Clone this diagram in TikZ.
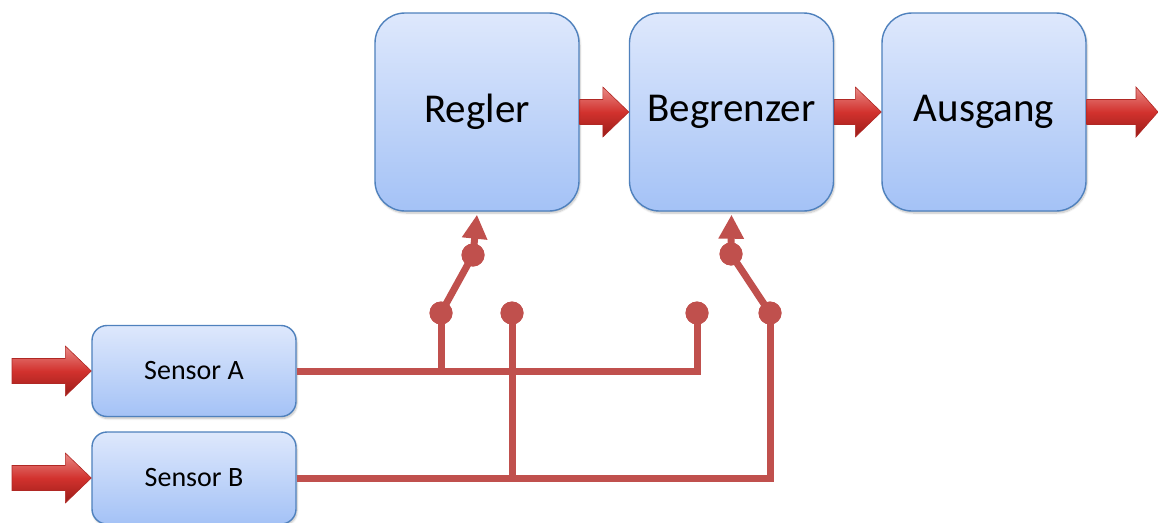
\documentclass[tikz,border=0pt]{standalone}
\usepackage{fontspec}
\setmainfont{Carlito}
\usetikzlibrary{calc,arrows.meta,shadows.blur}

\definecolor{wirered}{HTML}{C0504D}
\definecolor{boxtop}{HTML}{DEE8FC}
\definecolor{boxbot}{HTML}{A4C2F6}
\definecolor{boxline}{HTML}{4F81BD}
\definecolor{arrtop}{HTML}{E88A86}
\definecolor{arrmid}{HTML}{D2322E}
\definecolor{arrbot}{HTML}{9A1C18}
\definecolor{arrline}{HTML}{B02824}

\tikzset{
  block/.style={draw=boxline, line width=1.4pt, rounded corners=30pt,
    top color=boxtop, bottom color=boxbot, minimum width=204pt, minimum height=198pt,
    font=\fontsize{41}{48}\selectfont,
    blur shadow={shadow xshift=1pt, shadow yshift=-2pt, shadow blur steps=6, shadow opacity=25}},
  sensor/.style={block, rounded corners=15pt, minimum height=91pt,
    font=\fontsize{28}{34}\selectfont},
  wire/.style={draw=wirered, line width=7pt, line join=miter},
  wireshadow/.style={draw=black, opacity=0.12, line width=7pt, line join=miter},
  dot/.style={circle, fill=wirered, inner sep=0pt, minimum size=23pt},
  tip/.style={-{Triangle[width=24pt,length=24pt]}},
  bigarrow/.style={draw=arrline, line width=0.6pt, top color=arrtop, bottom color=arrbot, middle color=arrmid},
}

% thick 3-D arrow whose tip lies on the second point
\newcommand{\blockarrow}[3][26]{%
  \path[bigarrow] ($(#2)+(0,-12.5)$) -- ($(#3)+(-#1,-12.5)$) -- ($(#3)+(-#1,-25)$)
    -- (#3) -- ($(#3)+(-#1,25)$) -- ($(#3)+(-#1,12.5)$) -- ($(#2)+(0,12.5)$) -- cycle;}

\begin{document}
\begin{tikzpicture}[x=1pt, y=-1pt]
  \useasboundingbox (0,0) rectangle (1158,522);

  % processing chain
  \node[block] (regler) at (477,112) {Regler};
  \node[block] (begr)   at (731.5,112) {Begrenzer};
  \node[block] (ausg)   at (984,112) {Ausgang};

  % sensors
  \node[sensor] (sa) at (194,371) {Sensor A};
  \node[sensor, minimum height=92pt] (sb) at (194,478) {Sensor B};

  % inputs and output
  \coordinate (ina) at (12,371);
  \coordinate (inb) at (12,478);
  \coordinate (out) at (1158,112);
  \blockarrow{ina}{sa.west}
  \blockarrow{inb}{sb.west}
  \blockarrow{regler.east}{begr.west}
  \blockarrow{begr.east}{ausg.west}
  \blockarrow[22]{ausg.east}{out}

  % switch contacts
  \node[dot] (a1) at (441,313) {};
  \node[dot] (a2) at (473,255) {};
  \node[dot] (b1) at (512,313) {};
  \node[dot] (a3) at (697,313) {};
  \node[dot] (b2) at (770,313) {};
  \node[dot] (b3) at (731,254) {};

  % soft shadow under the wiring
  \begin{scope}[shift={(1.5,2.5)}]
    \draw[wireshadow] (sa.east) -| (a3.center);
    \draw[wireshadow] (sb.east) -| (b2.center);
    \draw[wireshadow] (a1.center) -- (a1.center |- sa.east);
    \draw[wireshadow] (b1.center) -- (b1.center |- sb.east);
  \end{scope}

  % wiring from Sensor A
  \draw[wire] (sa.east) -| (a3.center);
  \draw[wire] (a1.center) -- (a1.center |- sa.east);
  % wiring from Sensor B
  \draw[wire] (sb.east) -| (b2.center);
  \draw[wire] (b1.center) -- (b1.center |- sb.east);

  % switch for Regler
  \draw[wire] (a1.center) -- (a2.center);
  \draw[wire, tip] (a2.center) -- ($(regler.south)+(0,3)$);
  % switch for Begrenzer
  \draw[wire] (b2.center) -- (b3.center);
  \draw[wire, tip] (b3.center) -- ($(begr.south)+(0,3)$);

  % contacts on top of the wires
  \foreach \d in {a1,a2,b1,a3,b2,b3} \fill[wirered] (\d) circle (11.5pt);
\end{tikzpicture}
\end{document}
